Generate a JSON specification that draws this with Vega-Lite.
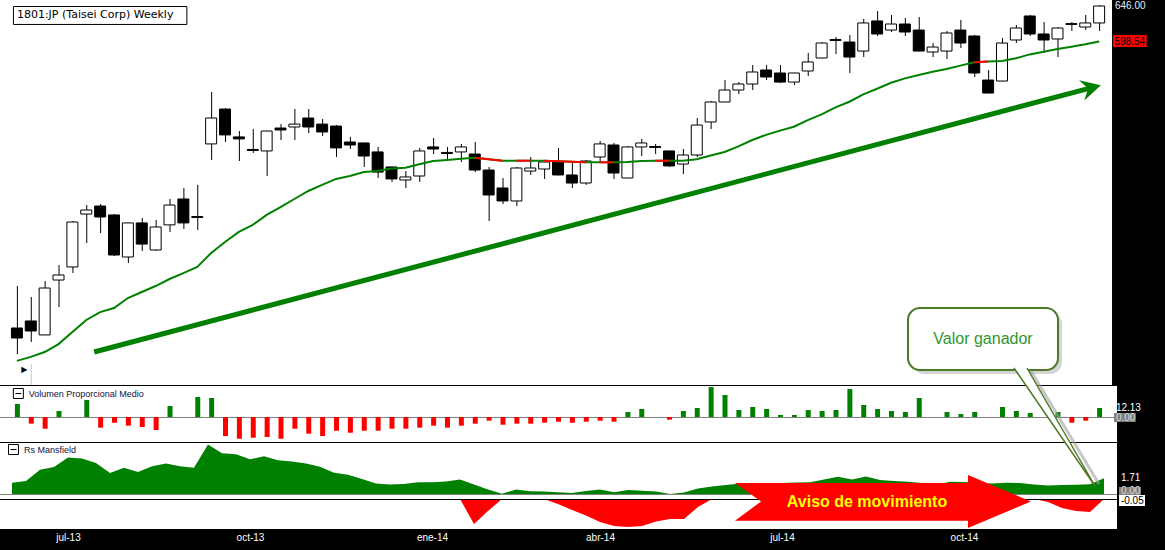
{
"$schema": "https://vega.github.io/schema/vega-lite/v6.json",
"background": "black",
"autosize": {"type": "none"},
"padding": {"left": 0, "top": 0, "right": 1165, "bottom": 550},
"spacing": 1,
"bounds": "flush",
"config": {"view": {"fill": "white", "stroke": null}},
"resolve": {"scale": {"x": "independent", "y": "independent"}},
"datasets": {"wk": [
{"w":0,"o":323.4,"h":353.9,"l":305.8,"c":316.5,"ma":301.3,"v":17.5,"rs":1.22,"rd":-0.545},
{"w":1,"o":328.3,"h":345.7,"l":313.8,"c":321.3,"ma":303.9,"v":-9.0,"rs":1.42,"rd":-0.545},
{"w":2,"o":318.6,"h":357.7,"l":318.4,"c":352.4,"ma":307.1,"v":-15.8,"rs":2.65,"rd":-0.545},
{"w":3,"o":358.5,"h":370.3,"l":338.3,"c":362.4,"ma":312.4,"v":8.1,"rs":2.94,"rd":-0.545},
{"w":4,"o":368.7,"h":407.0,"l":364.0,"c":406.1,"ma":320.6,"v":0,"rs":3.98,"rd":-0.545},
{"w":5,"o":413.1,"h":421.2,"l":388.2,"c":416.7,"ma":329.0,"v":22.9,"rs":3.86,"rd":-0.545},
{"w":6,"o":420.3,"h":422.1,"l":396.6,"c":410.5,"ma":334.6,"v":-14.4,"rs":3.38,"rd":-0.545},
{"w":7,"o":412.3,"h":413.1,"l":377.5,"c":378.3,"ma":337.6,"v":-7.7,"rs":2.29,"rd":-0.545},
{"w":8,"o":376.7,"h":405.5,"l":371.9,"c":405.3,"ma":344.9,"v":-11.7,"rs":2.86,"rd":-0.545},
{"w":9,"o":405.3,"h":409.7,"l":381.6,"c":387.3,"ma":349.4,"v":-13.5,"rs":2.40,"rd":-0.545},
{"w":10,"o":382.4,"h":407.9,"l":381.6,"c":401.8,"ma":353.9,"v":-17.5,"rs":3.02,"rd":-0.545},
{"w":11,"o":403.6,"h":426.7,"l":397.5,"c":421.2,"ma":359.3,"v":14.8,"rs":3.32,"rd":-0.545},
{"w":12,"o":426.7,"h":436.9,"l":400.1,"c":405.3,"ma":363.9,"v":0,"rs":3.02,"rd":-0.545},
{"w":13,"o":410.9,"h":439.8,"l":399.2,"c":410.1,"ma":368.7,"v":27.0,"rs":2.86,"rd":-0.545},
{"w":14,"o":480.3,"h":537.0,"l":464.0,"c":507.8,"ma":379.9,"v":25.6,"rs":5.40,"rd":-0.545},
{"w":15,"o":517.7,"h":518.8,"l":482.3,"c":489.7,"ma":389.0,"v":-25.6,"rs":4.44,"rd":-0.545},
{"w":16,"o":487.6,"h":493.8,"l":463.0,"c":485.5,"ma":397.5,"v":-29.3,"rs":4.34,"rd":-0.545},
{"w":17,"o":474.6,"h":496.0,"l":471.0,"c":473.6,"ma":403.6,"v":-27.9,"rs":3.78,"rd":-0.545},
{"w":18,"o":473.1,"h":494.0,"l":448.3,"c":493.8,"ma":412.3,"v":-27.0,"rs":4.12,"rd":-0.545},
{"w":19,"o":497.0,"h":501.2,"l":484.4,"c":494.9,"ma":419.4,"v":-29.3,"rs":3.68,"rd":-0.545},
{"w":20,"o":498.1,"h":517.7,"l":484.4,"c":501.2,"ma":426.7,"v":-15.8,"rs":3.55,"rd":-0.545},
{"w":21,"o":507.8,"h":517.7,"l":491.7,"c":498.1,"ma":434.1,"v":-22.5,"rs":3.32,"rd":-0.545},
{"w":22,"o":501.2,"h":506.7,"l":488.6,"c":492.8,"ma":439.8,"v":-25.6,"rs":2.98,"rd":-0.545},
{"w":23,"o":499.1,"h":500.2,"l":467.0,"c":476.2,"ma":445.5,"v":-18.5,"rs":2.31,"rd":-0.545},
{"w":24,"o":482.3,"h":487.6,"l":475.1,"c":479.2,"ma":448.3,"v":-21.2,"rs":2.09,"rd":-0.545},
{"w":25,"o":481.3,"h":481.5,"l":457.1,"c":468.0,"ma":452.1,"v":-18.5,"rs":1.64,"rd":-0.545},
{"w":26,"o":472.1,"h":477.2,"l":446.4,"c":452.1,"ma":453.1,"v":-18.5,"rs":1.14,"rd":-0.545},
{"w":27,"o":457.1,"h":457.3,"l":442.6,"c":445.5,"ma":455.6,"v":-15.8,"rs":1.04,"rd":-0.545},
{"w":28,"o":444.5,"h":453.1,"l":436.9,"c":447.4,"ma":456.4,"v":-15.8,"rs":1.09,"rd":-0.545},
{"w":29,"o":448.3,"h":476.2,"l":442.6,"c":473.1,"ma":459.7,"v":-14.4,"rs":1.28,"rd":-0.545},
{"w":30,"o":477.2,"h":486.5,"l":470.0,"c":475.1,"ma":463.0,"v":-11.7,"rs":1.28,"rd":-0.545},
{"w":31,"o":471.6,"h":477.2,"l":464.0,"c":470.5,"ma":464.0,"v":-14.4,"rs":1.36,"rd":-0.545},
{"w":32,"o":472.1,"h":480.3,"l":462.0,"c":477.2,"ma":465.3,"v":-11.7,"rs":1.59,"rd":-0.545},
{"w":33,"o":470.0,"h":482.3,"l":452.1,"c":454.1,"ma":466.3,"v":-9.0,"rs":1.04,"rd":-3.27,"seg":1},
{"w":34,"o":454.1,"h":457.1,"l":407.0,"c":430.4,"ma":464.7,"v":-5.0,"rs":0.48,"rd":-1.853,"seg":1},
{"w":35,"o":436.9,"h":446.4,"l":422.1,"c":424.9,"ma":463.3,"v":-10.4,"rs":0.02,"rd":-0.545,"seg":1},
{"w":36,"o":424.9,"h":457.1,"l":420.3,"c":456.1,"ma":463.3,"v":-9.0,"rs":0.50,"rd":-0.545,"seg":2},
{"w":37,"o":453.1,"h":467.0,"l":449.3,"c":456.1,"ma":463.3,"v":-9.0,"rs":0.29,"rd":-0.545,"seg":2},
{"w":38,"o":455.1,"h":464.0,"l":445.5,"c":462.0,"ma":463.3,"v":-7.7,"rs":0.26,"rd":-0.545,"seg":3},
{"w":39,"o":462.0,"h":476.2,"l":449.0,"c":449.3,"ma":462.7,"v":-6.3,"rs":0.20,"rd":-1.09,"seg":3},
{"w":40,"o":449.3,"h":461.0,"l":436.9,"c":441.6,"ma":462.3,"v":-7.7,"rs":0.10,"rd":-1.744,"seg":3},
{"w":41,"o":441.6,"h":464.0,"l":439.8,"c":463.0,"ma":461.7,"v":-6.3,"rs":0.34,"rd":-2.344,"seg":3},
{"w":42,"o":467.0,"h":483.4,"l":461.0,"c":480.3,"ma":461.7,"v":-5.0,"rs":0.50,"rd":-3.052,"seg":4},
{"w":43,"o":479.2,"h":481.3,"l":445.5,"c":451.2,"ma":461.7,"v":-6.3,"rs":0.19,"rd":-3.488,"seg":4},
{"w":44,"o":446.4,"h":478.2,"l":446.2,"c":477.2,"ma":462.0,"v":6.7,"rs":0.44,"rd":-3.597},
{"w":45,"o":477.2,"h":485.5,"l":468.0,"c":481.3,"ma":463.0,"v":10.8,"rs":0.36,"rd":-3.488},
{"w":46,"o":477.7,"h":480.3,"l":470.0,"c":476.7,"ma":463.3,"v":0,"rs":0.27,"rd":-2.998,"seg":5},
{"w":47,"o":473.1,"h":473.3,"l":457.1,"c":458.1,"ma":463.3,"v":-3.6,"rs":0.0,"rd":-2.725,"seg":5},
{"w":48,"o":460.0,"h":475.1,"l":450.2,"c":469.0,"ma":463.3,"v":8.1,"rs":0.16,"rd":-2.725},
{"w":49,"o":469.0,"h":507.8,"l":467.0,"c":500.2,"ma":464.8,"v":12.1,"rs":0.60,"rd":-1.417},
{"w":50,"o":503.5,"h":526.7,"l":496.0,"c":525.6,"ma":468.5,"v":40.4,"rs":0.81,"rd":-0.545},
{"w":51,"o":525.6,"h":551.0,"l":525.4,"c":539.3,"ma":472.1,"v":29.7,"rs":0.98,"rd":-0.545},
{"w":52,"o":539.3,"h":548.6,"l":534.7,"c":546.3,"ma":477.7,"v":9.4,"rs":1.14,"rd":-0.545},
{"w":53,"o":546.3,"h":569.1,"l":539.3,"c":560.6,"ma":484.4,"v":13.5,"rs":1.14,"rd":-0.545},
{"w":54,"o":563.0,"h":569.1,"l":551.0,"c":554.6,"ma":489.7,"v":10.8,"rs":1.20,"rd":-0.545},
{"w":55,"o":559.4,"h":569.1,"l":547.5,"c":548.6,"ma":494.2,"v":2.7,"rs":1.20,"rd":-0.545},
{"w":56,"o":548.6,"h":559.6,"l":545.1,"c":559.4,"ma":498.4,"v":2.7,"rs":1.25,"rd":-0.545},
{"w":57,"o":561.8,"h":584.0,"l":555.8,"c":572.8,"ma":505.6,"v":9.4,"rs":1.28,"rd":-0.545},
{"w":58,"o":577.7,"h":597.9,"l":577.5,"c":596.6,"ma":511.8,"v":8.1,"rs":1.58,"rd":-0.545},
{"w":59,"o":601.2,"h":604.4,"l":582.7,"c":599.9,"ma":519.6,"v":9.4,"rs":1.89,"rd":-0.545},
{"w":60,"o":597.9,"h":607.1,"l":559.4,"c":578.9,"ma":525.9,"v":37.7,"rs":1.58,"rd":-0.545},
{"w":61,"o":586.4,"h":628.3,"l":578.9,"c":622.9,"ma":534.3,"v":16.2,"rs":1.91,"rd":-0.545},
{"w":62,"o":625.6,"h":639.1,"l":605.7,"c":608.3,"ma":540.8,"v":10.8,"rs":1.53,"rd":-0.545},
{"w":63,"o":613.5,"h":633.7,"l":610.9,"c":621.5,"ma":547.8,"v":8.1,"rs":1.42,"rd":-0.545},
{"w":64,"o":621.5,"h":629.6,"l":605.7,"c":610.9,"ma":553.0,"v":6.7,"rs":1.33,"rd":-0.545},
{"w":65,"o":613.5,"h":630.9,"l":586.2,"c":586.4,"ma":557.0,"v":25.6,"rs":1.20,"rd":-0.545},
{"w":66,"o":585.2,"h":596.6,"l":578.9,"c":591.5,"ma":560.9,"v":0,"rs":1.00,"rd":-0.545},
{"w":67,"o":586.4,"h":612.2,"l":576.5,"c":609.6,"ma":564.2,"v":6.7,"rs":1.33,"rd":-0.545},
{"w":68,"o":613.5,"h":626.9,"l":590.3,"c":596.6,"ma":568.3,"v":4.0,"rs":1.31,"rd":-0.545},
{"w":69,"o":605.7,"h":607.1,"l":554.6,"c":559.4,"ma":572.5,"v":6.7,"rs":1.20,"rd":-0.545,"seg":6},
{"w":70,"o":551.0,"h":563.0,"l":535.6,"c":535.8,"ma":573.3,"v":0,"rs":1.14,"rd":-0.545,"seg":6},
{"w":71,"o":549.8,"h":603.1,"l":549.6,"c":596.6,"ma":574.0,"v":13.5,"rs":1.22,"rd":-0.545},
{"w":72,"o":600.5,"h":620.2,"l":596.6,"c":616.2,"ma":577.4,"v":8.1,"rs":1.20,"rd":-0.545},
{"w":73,"o":632.3,"h":633.7,"l":605.7,"c":608.3,"ma":582.2,"v":5.4,"rs":1.04,"rd":-0.545},
{"w":74,"o":608.3,"h":624.2,"l":583.9,"c":600.5,"ma":585.5,"v":0,"rs":0.93,"rd":-0.872},
{"w":75,"o":601.8,"h":617.5,"l":578.9,"c":616.2,"ma":589.0,"v":6.7,"rs":0.98,"rd":-1.526},
{"w":76,"o":622.0,"h":624.2,"l":612.2,"c":621.0,"ma":591.9,"v":-7.7,"rs":1.01,"rd":-1.853},
{"w":77,"o":617.5,"h":633.7,"l":613.5,"c":622.9,"ma":595.0,"v":-5.0,"rs":1.06,"rd":-1.962},
{"w":78,"o":622.9,"h":647.4,"l":612.2,"c":646.0,"ma":598.54,"v":12.13,"rs":1.71,"rd":-0.545}
]},
"vconcat": [
{
"width": 1117, "height": 385,
"data": {"name": "wk"},
"layer": [
{"data": {"values": [{}]}, "mark": {"type": "rect", "fill": "black"},
 "encoding": {"x": {"datum": 78.93, "scale": {"domain": [-0.8571, 78.9286], "nice": false, "zero": false}, "axis": null}, "x2": {"datum": 82.35},
  "y": {"datum": 654.4, "scale": {"type": "log", "domain": [286.1, 654.4], "nice": false}, "axis": null}, "y2": {"datum": 286.1}}},
{"data": {"values": [{}]}, "mark": {"type": "rule", "color": "#008000", "strokeWidth": 5},
 "encoding": {"x": {"datum": 5.571, "axis": null}, "y": {"datum": 307.1, "axis": null}, "x2": {"datum": 77.214}, "y2": {"datum": 541.0}}},
{"data": {"values": [{}]}, "mark": {"type": "point", "shape": "M 1 0 L -0.8 -0.95 L -0.2 0 L -0.8 0.95 Z", "size": 484, "angle": -14.7, "filled": true, "fill": "#008000", "strokeWidth": 0, "opacity": 1},
 "encoding": {"x": {"datum": 77.357, "axis": null}, "y": {"datum": 541.6, "axis": null}}},
{"mark": {"type": "rule", "color": "black", "strokeWidth": 1, "xOffset": 0.5},
 "encoding": {"x": {"field": "w", "type": "quantitative", "axis": null}, "y": {"field": "l", "type": "quantitative", "axis": null}, "y2": {"field": "h"}}},
{"mark": {"type": "bar", "size": 11, "stroke": "black", "strokeWidth": 1},
 "encoding": {"x": {"field": "w", "type": "quantitative", "axis": null}, "y": {"field": "o", "type": "quantitative", "axis": null}, "y2": {"field": "c"},
  "fill": {"condition": {"test": "datum.c >= datum.o", "value": "white"}, "value": "black"}}},
{"mark": {"type": "line", "color": "#008000", "strokeWidth": 2},
 "encoding": {"x": {"field": "w", "type": "quantitative", "axis": null}, "y": {"field": "ma", "type": "quantitative", "axis": null}}},
{"transform": [{"filter": "isValid(datum.seg)"}], "mark": {"type": "line", "color": "#ff0000", "strokeWidth": 2},
 "encoding": {"x": {"field": "w", "type": "quantitative", "axis": null}, "y": {"field": "ma", "type": "quantitative", "axis": null}, "detail": {"field": "seg", "type": "nominal"}}},
{"data": {"values": [{}]}, "mark": {"type": "rect", "fill": "white", "stroke": "black", "strokeWidth": 1},
 "encoding": {"x": {"datum": -0.25, "axis": null}, "x2": {"datum": 12.25}, "y": {"datum": 645.3, "axis": null}, "y2": {"datum": 620.9}}},
{"data": {"values": [{}]}, "mark": {"type": "text", "text": "1801:JP (Taisei Corp) Weekly", "font": "DejaVu Sans", "fontSize": 11, "align": "left", "baseline": "middle", "color": "black"},
 "encoding": {"x": {"datum": 0, "axis": null}, "y": {"datum": 633.7, "axis": null}}},
{"data": {"values": [{}]}, "mark": {"type": "text", "text": "646.00", "font": "Liberation Sans", "fontSize": 10, "align": "left", "baseline": "middle", "color": "#e0eeff"},
 "encoding": {"x": {"datum": 79.14, "axis": null}, "y": {"datum": 646, "axis": null}}},
{"data": {"values": [{}]}, "mark": {"type": "rect", "fill": "#ff0000"},
 "encoding": {"x": {"datum": 79.0, "axis": null}, "x2": {"datum": 81.43}, "y": {"datum": 607.0, "axis": null}, "y2": {"datum": 591.5}}},
{"data": {"values": [{}]}, "mark": {"type": "text", "text": "598.54", "font": "Liberation Sans", "fontSize": 10, "align": "center", "baseline": "middle", "color": "black"},
 "encoding": {"x": {"datum": 80.21, "axis": null}, "y": {"datum": 598.54, "axis": null}}},
{"data": {"values": [{}]}, "mark": {"type": "text", "text": "▶", "font": "DejaVu Sans", "fontSize": 8, "align": "center", "baseline": "middle", "color": "black"},
 "encoding": {"x": {"datum": 0.54, "axis": null}, "y": {"datum": 295.5, "axis": null}}},
{"data": {"values": [{}]}, "mark": {"type": "rule", "color": "#c8c8c8", "strokeWidth": 1, "xOffset": 0.5},
 "encoding": {"x": {"datum": 1.0, "axis": null}, "y": {"datum": 299.3, "axis": null}, "y2": {"datum": 286.2}}}
]
},
{
"width": 1117, "height": 56,
"data": {"name": "wk"},
"layer": [
{"data": {"values": [{}]}, "mark": {"type": "rule", "color": "#808080", "strokeWidth": 1, "yOffset": 0.5},
 "encoding": {"y": {"datum": 0, "scale": {"domain": [-33.7, 41.8], "nice": false, "zero": false}, "axis": null}}},
{"mark": {"type": "bar", "size": 5, "xOffset": 0.5},
 "encoding": {"x": {"field": "w", "type": "quantitative", "scale": {"domain": [-0.8571, 78.9286], "nice": false, "zero": false}, "axis": null},
  "y": {"field": "v", "type": "quantitative", "axis": null}, "y2": {"datum": 0},
  "color": {"condition": {"test": "datum.v >= 0", "value": "#008000"}, "value": "#ff0000"}}},
{"data": {"values": [{}]}, "mark": {"type": "point", "shape": "square", "size": 100, "filled": false, "stroke": "black", "strokeWidth": 1, "opacity": 1},
 "encoding": {"x": {"datum": 0.107, "axis": null}, "y": {"datum": 31.68, "axis": null}}},
{"data": {"values": [{}]}, "mark": {"type": "rule", "color": "black", "strokeWidth": 1},
 "encoding": {"x": {"datum": -0.107, "axis": null}, "x2": {"datum": 0.321}, "y": {"datum": 31.68, "axis": null}}},
{"data": {"values": [{}]}, "mark": {"type": "text", "text": "Volumen Proporcional Medio", "font": "Liberation Sans", "fontSize": 9, "align": "left", "baseline": "middle", "color": "#101040"},
 "encoding": {"x": {"datum": 0.857, "axis": null}, "y": {"datum": 31.68, "axis": null}}},
{"data": {"values": [{}]}, "mark": {"type": "rect", "fill": "#808080"},
 "encoding": {"x": {"datum": 79.07, "axis": null}, "x2": {"datum": 80.64}, "y": {"datum": 5.39, "axis": null}, "y2": {"datum": -6.74}}},
{"data": {"values": [{}]}, "mark": {"type": "text", "text": "0.00", "font": "Liberation Sans", "fontSize": 10, "align": "left", "baseline": "middle", "color": "#d8d8d8"},
 "encoding": {"x": {"datum": 79.21, "axis": null}, "y": {"datum": -0.67, "axis": null}}},
{"data": {"values": [{}]}, "mark": {"type": "text", "text": "12.13", "font": "Liberation Sans", "fontSize": 10, "align": "left", "baseline": "middle", "color": "white"},
 "encoding": {"x": {"datum": 79.21, "axis": null}, "y": {"datum": 12.13, "axis": null}}}
]
},
{
"width": 1117, "height": 86,
"data": {"name": "wk"},
"layer": [
{"mark": {"type": "area", "color": "#008000", "opacity": 1},
 "encoding": {"x": {"field": "w", "type": "quantitative", "scale": {"domain": [-0.8571, 78.9286], "nice": false, "zero": false},
   "axis": {"values": [4, 17, 30, 42, 55, 68], "labelExpr": "datum.value == 4 ? 'jul-13' : datum.value == 17 ? 'oct-13' : datum.value == 30 ? 'ene-14' : datum.value == 42 ? 'abr-14' : datum.value == 55 ? 'jul-14' : 'oct-14'", "ticks": false, "domain": false, "grid": false, "labelColor": "white", "labelFont": "Liberation Sans", "labelFontSize": 10, "labelPadding": 3, "labelOverlap": false, "labelFlush": false, "title": null, "zindex": 1}},
  "y": {"field": "rs", "type": "quantitative", "scale": {"domain": [-3.815, 5.559], "nice": false, "zero": false}, "axis": null}, "y2": {"datum": 0}}},
{"mark": {"type": "area", "color": "#ff0000", "opacity": 1},
 "encoding": {"x": {"field": "w", "type": "quantitative"}, "y": {"field": "rd", "type": "quantitative", "axis": null}, "y2": {"datum": -0.545}}},
{"data": {"values": [{}]}, "mark": {"type": "rule", "color": "#808080", "strokeWidth": 1, "yOffset": 0.5},
 "encoding": {"y": {"datum": 0, "axis": null}}},
{"data": {"values": [{}]}, "mark": {"type": "rule", "color": "black", "strokeWidth": 1, "yOffset": 0.5},
 "encoding": {"y": {"datum": -0.545, "axis": null}}},
{"data": {"values": [{}]}, "mark": {"type": "point", "shape": "M -1 -0.125 L 0.574 -0.125 L 0.574 -0.179 L 1 0 L 0.574 0.179 L 0.574 0.13 L -1 0.13 L -0.824 0 Z", "size": 87616, "filled": true, "fill": "#ff0000", "strokeWidth": 0, "opacity": 1},
 "encoding": {"x": {"datum": 62.214}, "y": {"datum": -0.8175, "axis": null}}},
{"data": {"values": [{}]}, "mark": {"type": "text", "text": "Aviso de movimiento", "font": "Liberation Sans", "fontSize": 16, "fontWeight": "bold", "align": "center", "baseline": "middle", "color": "#ffff00"},
 "encoding": {"x": {"datum": 61.07}, "y": {"datum": -0.872, "axis": null}}},
{"data": {"values": [{}]}, "mark": {"type": "rect", "fill": "#b8b8b8", "opacity": 0.6, "cornerRadius": 12},
 "encoding": {"x": {"datum": 64.3}, "x2": {"datum": 75.0}, "y": {"datum": 19.84, "axis": null}, "y2": {"datum": 13.08}}},
{"data": {"values": [{}]}, "mark": {"type": "rect", "fill": "white", "stroke": "#4e7a27", "strokeWidth": 2, "cornerRadius": 12},
 "encoding": {"x": {"datum": 64.0}, "x2": {"datum": 74.714}, "y": {"datum": 20.274, "axis": null}, "y2": {"datum": 13.516}}},
{"data": {"values": [{}]}, "mark": {"type": "text", "text": "Valor ganador", "font": "Liberation Sans", "fontSize": 16, "align": "center", "baseline": "middle", "color": "#2f962f"},
 "encoding": {"x": {"datum": 69.357}, "y": {"datum": 16.895, "axis": null}}},
{"data": {"values": [{}]}, "mark": {"type": "rule", "color": "#a0a0a0", "strokeWidth": 3, "opacity": 0.6},
 "encoding": {"x": {"datum": 72.786}, "y": {"datum": 13.407, "axis": null}, "x2": {"datum": 77.643}, "y2": {"datum": 1.09}}},
{"data": {"values": [{}]}, "mark": {"type": "point", "shape": "M -0.6864 -1 L 0.6864 1 L -0.4661 -1", "size": 13924, "filled": true, "fill": "white", "stroke": "#4e7a27", "strokeWidth": 1.5, "opacity": 1},
 "encoding": {"x": {"datum": 74.464}, "y": {"datum": 7.303, "axis": null}}},
{"data": {"values": [{}]}, "mark": {"type": "point", "shape": "square", "size": 100, "filled": false, "stroke": "black", "strokeWidth": 1, "opacity": 1},
 "encoding": {"x": {"datum": 0.107}, "y": {"datum": 4.85, "axis": null}}},
{"data": {"values": [{}]}, "mark": {"type": "rule", "color": "black", "strokeWidth": 1},
 "encoding": {"x": {"datum": -0.107}, "x2": {"datum": 0.321}, "y": {"datum": 4.85, "axis": null}}},
{"data": {"values": [{}]}, "mark": {"type": "text", "text": "Rs Mansfield", "font": "Liberation Sans", "fontSize": 9, "align": "left", "baseline": "middle", "color": "#101040"},
 "encoding": {"x": {"datum": 0.857}, "y": {"datum": 4.85, "axis": null}}},
{"data": {"values": [{}]}, "mark": {"type": "text", "text": "1.71", "font": "Liberation Sans", "fontSize": 10, "align": "left", "baseline": "middle", "color": "white"},
 "encoding": {"x": {"datum": 79.21}, "y": {"datum": 1.71, "axis": null}}},
{"data": {"values": [{}]}, "mark": {"type": "rect", "fill": "#808080"},
 "encoding": {"x": {"datum": 79.07}, "x2": {"datum": 80.64}, "y": {"datum": 0.763, "axis": null}, "y2": {"datum": -0.109}}},
{"data": {"values": [{}]}, "mark": {"type": "text", "text": "0.00", "font": "Liberation Sans", "fontSize": 10, "align": "left", "baseline": "middle", "color": "#d8d8d8"},
 "encoding": {"x": {"datum": 79.21}, "y": {"datum": 0.327, "axis": null}}},
{"data": {"values": [{}]}, "mark": {"type": "rect", "fill": "white"},
 "encoding": {"x": {"datum": 79.07}, "x2": {"datum": 80.93}, "y": {"datum": -0.109, "axis": null}, "y2": {"datum": -1.308}}},
{"data": {"values": [{}]}, "mark": {"type": "text", "text": "-0.05", "font": "Liberation Sans", "fontSize": 10, "align": "left", "baseline": "middle", "color": "black"},
 "encoding": {"x": {"datum": 79.21}, "y": {"datum": -0.709, "axis": null}}},
{"data": {"values": [{}]}, "mark": {"type": "rect", "fill": "black"},
 "encoding": {"x": {"datum": -0.85}, "x2": {"datum": 82.35}, "y": {"datum": -3.815, "axis": null}, "y2": {"datum": -6.1}}}
]
}
]
}
